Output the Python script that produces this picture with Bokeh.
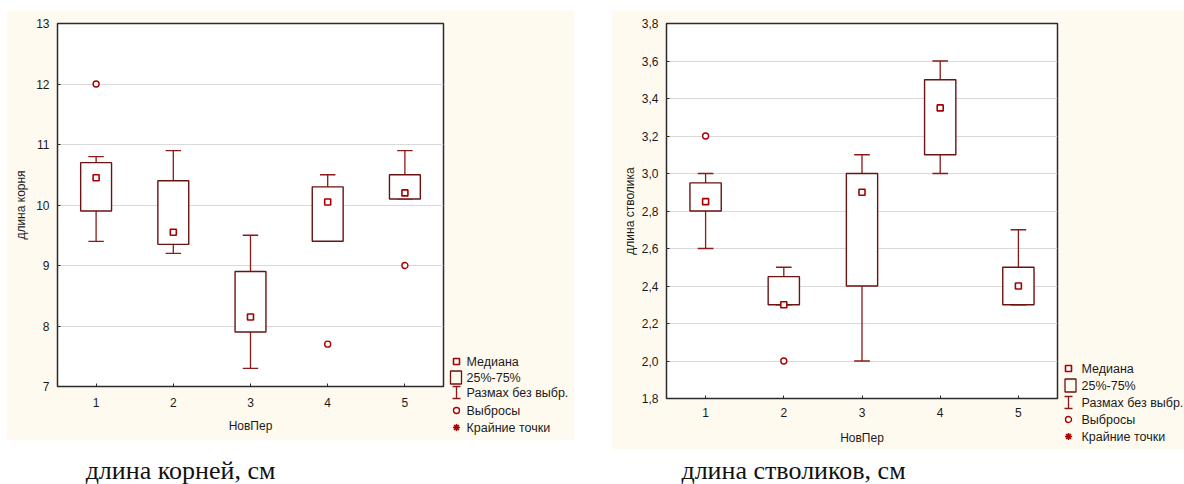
from bokeh.plotting import figure
from bokeh.models import Range1d, FixedTicker, Spacer, CustomJSTickFormatter
from bokeh.layouts import row, column
from bokeh.core.properties import value
from bokeh.embed import file_html
from bokeh.resources import INLINE

# ---------------- data ----------------
groups = [1, 2, 3, 4, 5]

root_q1 = [9.9, 9.35, 7.9, 9.4, 10.1]
root_q3 = [10.7, 10.4, 8.9, 10.3, 10.5]
root_med = [10.45, 9.55, 8.15, 10.05, 10.2]
root_lo = [9.4, 9.2, 7.3, 9.4, 10.1]
root_hi = [10.8, 10.9, 9.5, 10.5, 10.9]
root_out_x = [1, 4, 5]
root_out_y = [12.0, 7.7, 9.0]
root_ticks = [7, 8, 9, 10, 11, 12, 13]

stem_q1 = [2.8, 2.3, 2.4, 3.1, 2.3]
stem_q3 = [2.95, 2.45, 3.0, 3.5, 2.5]
stem_med = [2.85, 2.3, 2.9, 3.35, 2.4]
stem_lo = [2.6, 2.3, 2.0, 3.0, 2.3]
stem_hi = [3.0, 2.5, 3.1, 3.6, 2.7]
stem_out_x = [1, 2]
stem_out_y = [3.2, 2.0]
stem_ticks = [1.8, 2.0, 2.2, 2.4, 2.6, 2.8, 3.0, 3.2, 3.4, 3.6, 3.8]

legend_labels = ["Медиана", "25%-75%", "Размах без выбр.", "Выбросы", "Крайние точки"]
x_title = "НовПер"
captions = ["длина корней, см", "длина стволиков, см"]

# ---------------- style ----------------
CREAM = "#FFFAF0"
BOX_C = "#6B1212"
WH_C = "#8B1A1A"
MED_C = "#A80000"
SANS = "Liberation Sans"
SERIF = "Liberation Serif"
BOXW = 0.4
CAPW = 0.2


def make_box(width, height, mb_left, mb_top, mb_bottom, y0, y1, yticks, ytitle,
             q1, q3, med, lo, hi, ox, oy, comma, xl_stand, xa_stand, ya_stand):
    p = figure(width=width, height=height, x_range=Range1d(0.5, 5.5), y_range=Range1d(y0, y1),
               output_backend="svg", toolbar_location=None, frame_align=False,
               min_border_left=mb_left, min_border_right=2, min_border_top=mb_top,
               min_border_bottom=mb_bottom,
               background_fill_color="white", border_fill_color=CREAM,
               outline_line_color="#2b2b2b", outline_line_width=1.5)
    p.xgrid.visible = False
    p.ygrid.grid_line_color = "#D9D9D9"
    p.ygrid.grid_line_width = 1
    p.ygrid.ticker = FixedTicker(ticks=yticks)

    # whiskers (vertical) and caps
    p.segment(x0=groups, y0=lo, x1=groups, y1=hi, line_color=WH_C, line_width=1.3)
    p.segment(x0=[g - CAPW / 2 for g in groups], y0=lo, x1=[g + CAPW / 2 for g in groups], y1=lo,
              line_color=WH_C, line_width=1.3)
    p.segment(x0=[g - CAPW / 2 for g in groups], y0=hi, x1=[g + CAPW / 2 for g in groups], y1=hi,
              line_color=WH_C, line_width=1.3)
    # boxes
    p.vbar(x=groups, width=BOXW, bottom=q1, top=q3, fill_color="white",
           line_color=BOX_C, line_width=1.4)
    # medians
    p.scatter(x=groups, y=med, marker="square", size=6, fill_color="white",
              line_color=MED_C, line_width=1.6)
    # outliers
    p.scatter(x=ox, y=oy, marker="circle", size=6, fill_color="white",
              line_color=MED_C, line_width=1.4)

    xa = p.xaxis[0]
    xa.ticker = FixedTicker(ticks=groups)
    xa.axis_label = x_title
    ya = p.yaxis[0]
    ya.ticker = FixedTicker(ticks=yticks)
    ya.axis_label = ytitle
    if comma:
        ya.formatter = CustomJSTickFormatter(code="return tick.toFixed(1).replace('.', ',');")
    for ax in (xa, ya):
        ax.axis_line_color = None
        ax.major_tick_in = 3
        ax.major_tick_out = 0
        ax.minor_tick_line_color = None
        ax.major_tick_line_color = "#2b2b2b"
        ax.major_label_text_font = SANS
        ax.major_label_text_font_size = "12px"
        ax.major_label_text_color = "#1a1a1a"
        ax.axis_label_text_font = SANS
        ax.axis_label_text_font_size = "12px"
        ax.axis_label_text_font_style = "normal"
        ax.axis_label_text_color = "#1a1a1a"
    ya.major_label_standoff = 8
    ya.axis_label_standoff = ya_stand
    xa.major_label_standoff = xl_stand
    xa.axis_label_standoff = xa_stand
    return p


def make_legend(width, height, mx, bx, tx, rows):
    lg = figure(width=width, height=height, x_range=Range1d(0, width), y_range=Range1d(height, 0),
                output_backend="svg", toolbar_location=None, min_border=0, frame_align=False,
                x_axis_location=None, y_axis_location=None,
                border_fill_color=CREAM, background_fill_color=CREAM, outline_line_color=None)
    lg.grid.visible = False
    r0, r1, r2, r3, r4 = rows
    lg.scatter(x=[mx], y=[r0], marker="square", size=6, fill_color="white",
               line_color=MED_C, line_width=1.6)
    lg.quad(left=[bx - 5.5], right=[bx + 5.5], top=[r1 - 6.5], bottom=[r1 + 6.5],
            fill_color=CREAM, line_color=BOX_C, line_width=1.3)
    lg.segment(x0=[mx, mx - 4, mx - 4], y0=[r2 - 6, r2 - 6, r2 + 6],
               x1=[mx, mx + 4, mx + 4], y1=[r2 + 6, r2 - 6, r2 + 6],
               line_color=WH_C, line_width=1.3)
    lg.scatter(x=[mx], y=[r3], marker="circle", size=6, fill_color="white",
               line_color=MED_C, line_width=1.4)
    lg.scatter(x=[mx], y=[r4], marker="asterisk", size=7, line_color=MED_C, line_width=1.6)
    lg.text(x=[tx] * 5, y=rows, text=legend_labels, text_baseline="middle", text_align="left",
            text_font=value(SANS), text_font_size="12.5px", text_color="#1a1a1a")
    return lg


fig1 = make_box(439, 430, 51, 13, 54, 7, 13, root_ticks, "длина корня",
                root_q1, root_q3, root_med, root_lo, root_hi, root_out_x, root_out_y,
                False, 11, 9, 5)
leg1 = make_legend(129, 430, 11, 10.5, 21, [351, 367, 382, 400, 417])

fig2 = make_box(448, 439, 55, 13, 51, 1.8, 3.8, stem_ticks, "длина стволика",
                stem_q1, stem_q3, stem_med, stem_lo, stem_hi, stem_out_x, stem_out_y,
                True, 9, 11, 2)
leg2 = make_legend(125, 439, 9, 11, 22, [358, 375, 392, 409, 426])

cap = figure(width=1184, height=35, x_range=Range1d(0, 1184), y_range=Range1d(35, 0),
             output_backend="svg", toolbar_location=None, min_border=0, frame_align=False,
             x_axis_location=None, y_axis_location=None,
             border_fill_color="white", background_fill_color="white", outline_line_color=None)
cap.grid.visible = False
cap.text(x=[180, 793], y=[21, 21], text=captions, text_align="center", text_baseline="middle",
         text_font=value(SERIF), text_font_size="26px", text_color="#111111")

layout = column(
    Spacer(width=10, height=10),
    row(Spacer(width=6, height=10), fig1, leg1, Spacer(width=37, height=10), fig2, leg2),
    cap,
)

open("out.html", "w").write(file_html(layout, INLINE))
